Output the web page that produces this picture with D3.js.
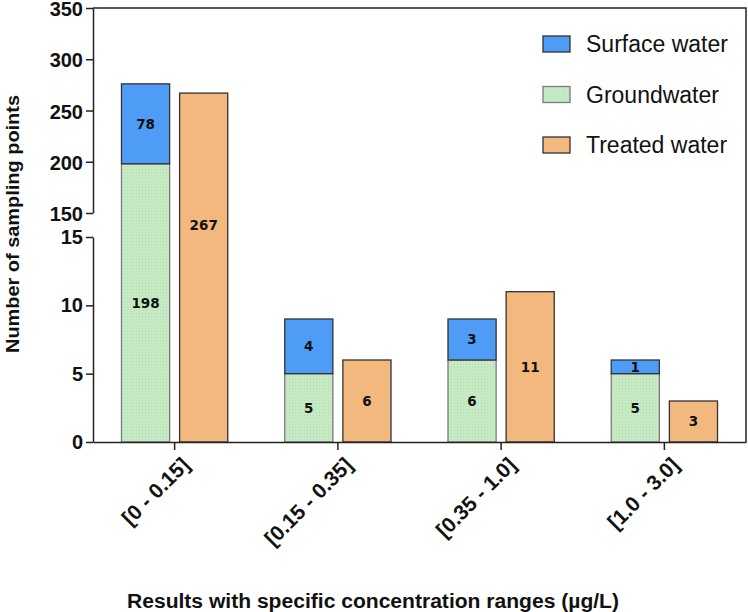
<!DOCTYPE html>
<meta charset="utf-8">
<script src="https://d3js.org/d3.v7.min.js"></script>
<style>
  body { margin: 0; background: #fff; }
  svg { display: block; }
</style>
<div id="chart"></div>
<script>

    // data
    var categories = ["[0 - 0.15]", "[0.15 - 0.35]", "[0.35 - 1.0]", "[1.0 - 3.0]"];
    var groundwater = [198, 5, 6, 5];
    var surface = [78, 4, 3, 1];
    var treated = [267, 6, 11, 3];
    var lowerTicks = [0, 5, 10, 15];
    var upperTicks = [150, 200, 250, 300, 350];
    var seriesNames = ["Surface water", "Groundwater", "Treated water"];

    var W = 748, H = 612;
    var plotL = 93, plotR = 746, plotT = 8, plotB = 442;

    var colors = { surface: "#4f9cf6", ground: "#c6eac4", treated: "#f2b87e" };

    var svg = d3.select("#chart")
        .append("svg")
        .attr("width", W)
        .attr("height", H);

    // dotted texture for groundwater
    var pat = svg.append("defs").append("pattern")
        .attr("id", "dots")
        .attr("width", 3)
        .attr("height", 3)
        .attr("patternUnits", "userSpaceOnUse");
    pat.append("rect").attr("width", 3).attr("height", 3).attr("fill", colors.ground);
    pat.append("rect").attr("x", 1).attr("y", 1).attr("width", 1).attr("height", 1).attr("fill", "#b4dcb1");

    // broken y axis: 0-15 below, 150-350 above
    var yLow = d3.scaleLinear().domain([0, 15]).range([plotB, 237]);
    var yHigh = d3.scaleLinear().domain([150, 350]).range([213, plotT]);
    var y = d3.scaleLinear().domain([0, 15, 150, 350]).range([plotB, 237, 213, plotT]);
    var breakY = (yLow(15) + yHigh(150)) / 2;

    var x = d3.scaleBand().domain(categories).range([plotL, plotR]).padding(0);
    var x1 = d3.scaleBand().domain(["stack", "treated"])
        .range([0, x.bandwidth()])
        .paddingInner(0.172)
        .paddingOuter(0.49);

    var tickFont = "'Liberation Sans', Arial, sans-serif";
    var labelFont = "'DejaVu Sans', Verdana, sans-serif";

    // frame (top + right)
    svg.append("path")
        .attr("d", "M" + plotL + "," + plotT + "H" + plotR + "V" + plotB)
        .attr("fill", "none")
        .attr("stroke", "#222")
        .attr("stroke-width", 1.5);

    var rows = categories.map(function (c, i) {
        return { cat: c, g: groundwater[i], s: surface[i], t: treated[i] };
    });

    // groundwater
    svg.selectAll(".gw")
        .data(rows)
        .enter()
        .append("rect")
        .attr("x", function (d) { return x(d.cat) + x1("stack"); })
        .attr("y", function (d) { return y(d.g); })
        .attr("width", x1.bandwidth())
        .attr("height", function (d) { return y(0) - y(d.g); })
        .attr("fill", "url(#dots)")
        .attr("stroke", "#7a7a7a")
        .attr("stroke-width", 1.3);

    // surface water on top
    svg.selectAll(".sw")
        .data(rows)
        .enter()
        .append("rect")
        .attr("x", function (d) { return x(d.cat) + x1("stack"); })
        .attr("y", function (d) { return y(d.g + d.s); })
        .attr("width", x1.bandwidth())
        .attr("height", function (d) { return y(d.g) - y(d.g + d.s); })
        .attr("fill", colors.surface)
        .attr("stroke", "#333")
        .attr("stroke-width", 1.3);

    // treated water
    svg.selectAll(".tw")
        .data(rows)
        .enter()
        .append("rect")
        .attr("x", function (d) { return x(d.cat) + x1("treated"); })
        .attr("y", function (d) { return y(d.t); })
        .attr("width", x1.bandwidth())
        .attr("height", function (d) { return y(0) - y(d.t); })
        .attr("fill", colors.treated)
        .attr("stroke", "#333")
        .attr("stroke-width", 1.3);

    // value labels
    var labels = [];
    rows.forEach(function (d) {
        var cx = x(d.cat) + x1("stack") + x1.bandwidth() / 2;
        labels.push({ x: cx, y: (y(0) + y(d.g)) / 2, v: d.g });
        labels.push({ x: cx, y: (y(d.g) + y(d.g + d.s)) / 2, v: d.s });
        var tx = x(d.cat) + x1("treated") + x1.bandwidth() / 2;
        // the tall treated bar has its number at the axis break
        labels.push({ x: tx, y: d.t > 150 ? breakY : (y(0) + y(d.t)) / 2, v: d.t });
    });
    svg.selectAll(".vl")
        .data(labels)
        .enter()
        .append("text")
        .attr("x", function (d) { return d.x; })
        .attr("y", function (d) { return d.y; })
        .attr("dy", "0.36em")
        .attr("text-anchor", "middle")
        .style("font-family", labelFont)
        .style("font-weight", "bold")
        .style("font-size", "13.5px")
        .style("fill", "#111")
        .text(function (d) { return d.v; });

    // y axes
    function styleAxis(g) {
        g.selectAll("path, line").attr("stroke", "#222").attr("stroke-width", 1.5);
        g.selectAll("text")
            .style("font-family", tickFont)
            .style("font-weight", "bold")
            .style("font-size", "20px")
            .style("fill", "#111");
    }
    svg.append("g")
        .attr("transform", "translate(" + plotL + ",0)")
        .call(d3.axisLeft(yLow).tickValues(lowerTicks).tickSize(7).tickSizeOuter(0).tickPadding(3))
        .call(styleAxis);
    svg.append("g")
        .attr("transform", "translate(" + plotL + ",0)")
        .call(d3.axisLeft(yHigh).tickValues(upperTicks).tickSize(7).tickSizeOuter(0).tickPadding(3))
        .call(styleAxis)
        .selectAll("text")
        .attr("dy", "0.38em");

    // x axis
    var xg = svg.append("g")
        .attr("transform", "translate(0," + plotB + ")")
        .call(d3.axisBottom(x).tickSize(8).tickSizeOuter(0))
        .call(styleAxis);
    xg.selectAll("text")
        .attr("transform", "translate(11,19)rotate(-45)")
        .attr("dy", "0.35em")
        .attr("y", 0)
        .attr("x", 0)
        .style("text-anchor", "end")
        .style("font-size", "21px");

    // axis titles
    svg.append("text")
        .attr("transform", "translate(19,224)rotate(-90)")
        .attr("text-anchor", "middle")
        .attr("textLength", 258)
        .attr("lengthAdjust", "spacingAndGlyphs")
        .style("font-family", tickFont)
        .style("font-weight", "bold")
        .style("font-size", "19px")
        .style("fill", "#111")
        .text("Number of sampling points");

    svg.append("text")
        .attr("x", 373)
        .attr("y", 608)
        .attr("text-anchor", "middle")
        .attr("textLength", 492)
        .attr("lengthAdjust", "spacingAndGlyphs")
        .style("font-family", tickFont)
        .style("font-weight", "bold")
        .style("font-size", "19.5px")
        .style("fill", "#111")
        .text("Results with specific concentration ranges (\u00b5g/L)");

    // legend
    var legFill = [colors.surface, "url(#dots)", colors.treated];
    var legStroke = ["#333", "#7a7a7a", "#333"];
    var leg = svg.selectAll(".leg")
        .data(seriesNames)
        .enter()
        .append("g")
        .attr("transform", function (d, i) { return "translate(543," + (36 + i * 50.5) + ")"; });
    leg.append("rect")
        .attr("width", 27)
        .attr("height", 16)
        .attr("fill", function (d, i) { return legFill[i]; })
        .attr("stroke", function (d, i) { return legStroke[i]; })
        .attr("stroke-width", 1.3);
    leg.append("text")
        .attr("x", 43)
        .attr("y", 8)
        .attr("dy", "0.36em")
        .style("font-family", tickFont)
        .style("font-size", "23px")
        .style("fill", "#111")
        .text(function (d) { return d; });

</script>
